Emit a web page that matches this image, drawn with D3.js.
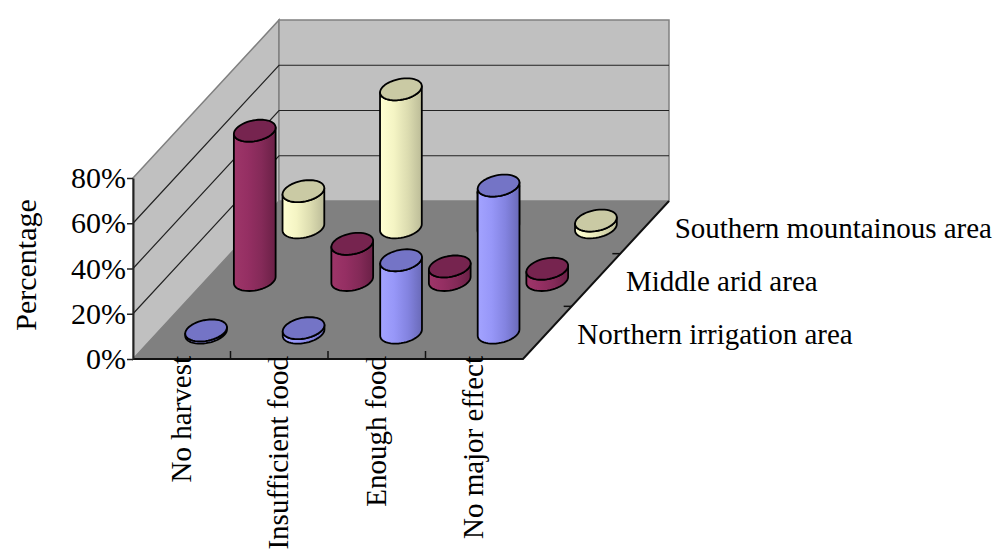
<!DOCTYPE html>
<html>
<head>
<meta charset="utf-8">
<script src="https://cdn.jsdelivr.net/npm/d3@7"></script>
<style>
  body { margin: 0; background: #fff; }
  text { font-family: "Liberation Serif", "Times New Roman", serif; }
</style>
</head>
<body>
<script>
// data
var categories = ["No harvest", "Insufficient food", "Enough food", "No major effect"];
var seriesNames = ["Northern irrigation area", "Middle arid area", "Southern mountainous area"];
var northern = [1, 2, 32, 65];
var middle = [66, 16, 6, 5];
var southern = [16, 61, 17, 3];
var yTicks = [0, 20, 40, 60, 80];

var seriesValues = [northern, middle, southern];

var W = 1002, H = 554;
var ox = 133, oy = 359, floorW = 390, depthDX = 146, depthDY = 158;

var svg = d3.select("body").append("svg")
    .attr("width", W)
    .attr("height", H);

var x = d3.scaleBand().domain(categories).range([0, floorW]);
var z = d3.scaleBand().domain(seriesNames).range([0, 1]);
var h = d3.scaleLinear().domain([0, 80]).range([0, 181]);

// oblique projection: front position, depth fraction, value
function P(xf, d, v) {
    return [ox + xf + d * depthDX, oy - d * depthDY - h(v)];
}

var line = d3.line();

// walls
svg.append("path")
    .attr("d", line([P(0, 0, 80), P(0, 1, 80), P(0, 1, 0), P(0, 0, 0)]) + "Z")
    .attr("fill", "#c0c0c0").attr("stroke", "#808080").attr("stroke-width", 1.5);
svg.append("path")
    .attr("d", line([P(0, 1, 80), P(floorW, 1, 80), P(floorW, 1, 0), P(0, 1, 0)]) + "Z")
    .attr("fill", "#c0c0c0").attr("stroke", "#808080").attr("stroke-width", 1.5);

// wall gridlines
[20, 40, 60].forEach(function(v) {
    svg.append("path").attr("d", line([P(0, 0, v), P(0, 1, v), P(floorW, 1, v)]))
        .attr("fill", "none").attr("stroke", "#222").attr("stroke-width", 1.2);
});

// floor
svg.append("path")
    .attr("d", line([P(0, 0, 0), P(floorW, 0, 0), P(floorW, 1, 0), P(0, 1, 0)]) + "Z")
    .attr("fill", "#808080");
svg.append("path")
    .attr("d", line([P(0, 0, 0), P(floorW, 0, 0), P(floorW, 1, 0)]))
    .attr("fill", "none").attr("stroke", "#111").attr("stroke-width", 2);

// category boundary ticks on front edge, series ticks on right edge
x.domain().slice(1).forEach(function(c) {
    var p = P(x(c), 0, 0);
    svg.append("line").attr("x1", p[0]).attr("x2", p[0]).attr("y1", p[1]).attr("y2", p[1] - 8)
        .attr("stroke", "#111").attr("stroke-width", 1.5);
});
z.domain().slice(1).forEach(function(s) {
    var p = P(floorW, z(s), 0);
    svg.append("line").attr("x1", p[0]).attr("x2", p[0] - 8).attr("y1", p[1]).attr("y2", p[1])
        .attr("stroke", "#111").attr("stroke-width", 1.5);
});

// value axis
var yAxisScale = d3.scaleLinear().domain([0, 80]).range([oy, oy - h(80)]);
var yAxis = svg.append("g")
    .attr("transform", "translate(" + ox + ",0)")
    .call(d3.axisLeft(yAxisScale).tickValues(yTicks).tickSize(6).tickSizeOuter(0).tickPadding(1)
        .tickFormat(function(d) { return d + "%"; }));
yAxis.select(".domain").attr("stroke", "#222").attr("stroke-width", 2);
yAxis.selectAll(".tick line").attr("stroke", "#222").attr("stroke-width", 1.5);
yAxis.selectAll("text").attr("font-size", 30).attr("fill", "#000")
    .style("font-family", "'Liberation Serif', serif");

svg.append("text")
    .attr("transform", "translate(36,265) rotate(-90)")
    .attr("text-anchor", "middle")
    .attr("font-size", 30)
    .text("Percentage");

// category labels
var xAxis = svg.append("g")
    .attr("transform", "translate(" + ox + "," + oy + ")")
    .call(d3.axisBottom(x).tickSize(0).tickPadding(0));
xAxis.select(".domain").remove();
xAxis.selectAll("text")
    .attr("font-size", 29).attr("fill", "#000")
    .style("font-family", "'Liberation Serif', serif")
    .attr("text-anchor", "end")
    .attr("transform", "translate(-1,-3) rotate(-90)")
    .attr("x", 0).attr("y", 0).attr("dy", "0.35em");

// cylinder colours
var bodyStops = [
    ["#a3a3ff", "#9797f8", "#8383e0", "#6a6ab8"],
    ["#9e3669", "#952f63", "#842a58", "#6a2046"],
    ["#ffffd2", "#f4f4c4", "#dcdcb0", "#bcbc98"]
];
var topFill = ["#7474c6", "#76244f", "#cacaa4"];

var defs = svg.append("defs");
bodyStops.forEach(function(st, j) {
    var g = defs.append("linearGradient").attr("id", "g" + j)
        .attr("x1", 0).attr("x2", 1).attr("y1", 0).attr("y2", 0);
    st.forEach(function(c, k) {
        g.append("stop").attr("offset", k / (st.length - 1)).attr("stop-color", c);
    });
});

var r = 20, a = 6, b = 11, N = 24;
var tR = Math.atan2(a, r), tL = tR - Math.PI;
function E(c, t) { return [c[0] + r * Math.cos(t) + a * Math.sin(t), c[1] - b * Math.sin(t)]; }

var cyl = svg.append("g");
for (var j = seriesNames.length - 1; j >= 0; j--) {
    seriesValues[j].forEach(function(v, i) {
        var cx = x(categories[i]) + x.bandwidth() / 2;
        var dc = z(seriesNames[j]) + z.bandwidth() / 2;
        var B = P(cx, dc, 0), T = P(cx, dc, v);
        var front = d3.range(N + 1).map(function(k) { return tR + (tL - tR) * k / N; });
        var bodyPts = front.map(function(t) { return E(B, t); })
            .concat(front.slice().reverse().map(function(t) { return E(T, t); }));
        cyl.append("path")
            .attr("d", line(bodyPts) + "Z")
            .attr("fill", "url(#g" + j + ")")
            .attr("stroke", "#000").attr("stroke-width", 1.8).attr("stroke-linejoin", "round");
        var topPts = d3.range(N * 2).map(function(k) { return E(T, k * Math.PI / N); });
        cyl.append("path")
            .attr("d", line(topPts) + "Z")
            .attr("fill", topFill[j])
            .attr("stroke", "#000").attr("stroke-width", 1.8).attr("stroke-linejoin", "round");
    });
}

// series labels along depth
seriesNames.forEach(function(s) {
    var p = P(floorW, z(s) + z.bandwidth() / 2, 0);
    svg.append("text")
        .attr("x", p[0] + 30).attr("y", p[1] + 11)
        .attr("font-size", 29)
        .text(s);
});
</script>
</body>
</html>
